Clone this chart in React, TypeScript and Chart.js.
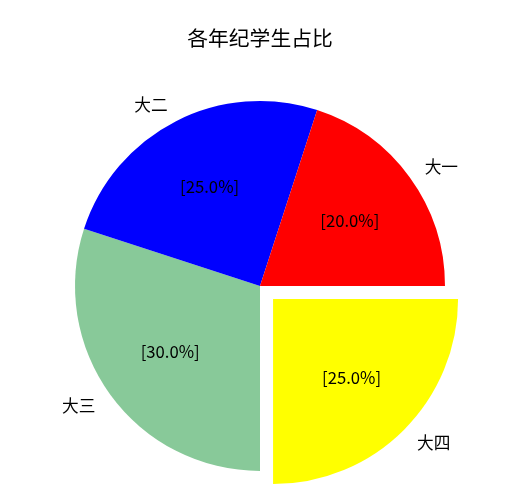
import { useEffect, useRef } from "react";
import { Chart, PieController, ArcElement, Title } from "chart.js";

Chart.register(PieController, ArcElement, Title);

const FONT = "'Noto Sans CJK SC', 'Noto Sans', sans-serif";

// matplotlib order: counter-clockwise from 3 o'clock
const grades = ["大一", "大二", "大三", "大四"];
const shares = [20, 25, 30, 25];
const colors = ["#ff0000", "#0000ff", "#88c999", "#ffff00"];
const explode = [0, 0, 0, 0.1];

const RADIUS = 185;

// draws outer category labels and inner percentage labels, mpl style
const pieLabels = {
  id: "pieLabels",
  afterDatasetsDraw(chart: any) {
    const { ctx } = chart;
    const meta = chart.getDatasetMeta(0);
    const ds = chart.data.datasets[0];
    const total = ds.data.reduce((a: number, b: number) => a + b, 0);
    ctx.save();
    ctx.fillStyle = "#000";
    ctx.font = `16.7px ${FONT}`;
    ctx.textBaseline = "middle";
    meta.data.forEach((arc: any, i: number) => {
      const { x, y, startAngle, endAngle, outerRadius } = arc.getProps(
        ["x", "y", "startAngle", "endAngle", "outerRadius"],
        true
      );
      const mid = (startAngle + endAngle) / 2;
      const shift = (ds.offset[i] || 0) / 4;
      const cx = x + Math.cos(mid) * shift;
      const cy = y + Math.sin(mid) * shift;
      const cos = Math.cos(mid);
      const sin = Math.sin(mid);

      ctx.textAlign = cos > 0 ? "left" : "right";
      ctx.fillText(chart.data.labels[i], cx + cos * outerRadius * 1.1, cy + sin * outerRadius * 1.1);

      ctx.textAlign = "center";
      const pct = ((ds.data[i] / total) * 100).toFixed(1);
      ctx.fillText(`[${pct}%]`, cx + cos * outerRadius * 0.6, cy + sin * outerRadius * 0.6);
    });
    ctx.restore();
  },
};

export default function App() {
  const ref = useRef<HTMLCanvasElement>(null);

  useEffect(() => {
    if (!ref.current) return;
    // Chart.js runs clockwise, so reverse to mimic the counter-clockwise layout
    const rev = <T,>(a: T[]) => a.slice().reverse();
    const chart = new Chart(ref.current, {
      type: "pie",
      data: {
        labels: rev(grades),
        datasets: [
          {
            data: rev(shares),
            backgroundColor: rev(colors),
            borderWidth: 0,
            offset: rev(explode).map((e) => e * RADIUS * 4),
            hoverOffset: 0,
          } as any,
        ],
      },
      options: {
        responsive: false,
        animation: false,
        rotation: 90,
        radius: RADIUS,
        layout: { padding: { top: 0, right: 9, bottom: 1, left: 0 } },
        events: [],
        plugins: {
          legend: { display: false },
          tooltip: { enabled: false },
          title: {
            display: true,
            text: "各年纪学生占比",
            color: "#000",
            font: { family: FONT, size: 20.8, weight: "normal", lineHeight: 1.2 },
            padding: { top: 26, bottom: 20 },
          },
        },
      } as any,
      plugins: [pieLabels],
    });
    return () => chart.destroy();
  }, []);

  return (
    <div style={{ position: "fixed", left: 0, top: 0, width: 529, height: 502, background: "#fff" }}>
      <canvas ref={ref} width={529} height={502} />
    </div>
  );
}
